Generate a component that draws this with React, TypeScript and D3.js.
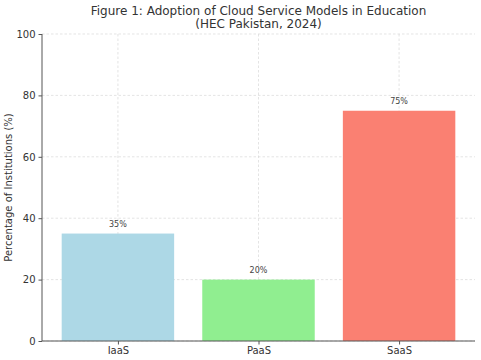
import React, { useEffect, useRef } from "react";
import * as d3 from "d3";

const categories = ["IaaS", "PaaS", "SaaS"];
const values = [35, 20, 75];
const barColors = ["#add8e6", "#90ee90", "#fa8072"];
const yTicks = [0, 20, 40, 60, 80, 100];

const W = 481;
const H = 360;

export default function App() {
  const ref = useRef<SVGSVGElement>(null);

  useEffect(() => {
    const svg = d3.select(ref.current);
    svg.selectAll("*").remove();

    const left = 42;
    const right = 475;
    const top = 34;
    const bottom = 341;

    const x = d3.scaleLinear().domain([-0.54, categories.length - 1 + 0.54]).range([left, right]);
    const y = d3.scaleLinear().domain([0, 100]).range([bottom, top]);
    const font = "DejaVu Sans, sans-serif";

    // grid
    svg
      .append("g")
      .selectAll("line")
      .data(yTicks)
      .enter()
      .append("line")
      .attr("x1", left)
      .attr("x2", right)
      .attr("y1", d => y(d))
      .attr("y2", d => y(d))
      .attr("stroke", "#d9d9d9")
      .attr("stroke-width", 0.7)
      .attr("stroke-dasharray", "2.5,2");
    svg
      .append("g")
      .selectAll("line")
      .data(categories)
      .enter()
      .append("line")
      .attr("x1", (d, i) => x(i))
      .attr("x2", (d, i) => x(i))
      .attr("y1", top)
      .attr("y2", bottom)
      .attr("stroke", "#d9d9d9")
      .attr("stroke-width", 0.7)
      .attr("stroke-dasharray", "2.5,2");

    // bars
    svg
      .append("g")
      .selectAll("rect")
      .data(values)
      .enter()
      .append("rect")
      .attr("x", (d, i) => x(i - 0.4))
      .attr("width", x(0.4) - x(-0.4))
      .attr("y", d => y(d))
      .attr("height", d => bottom - y(d))
      .attr("fill", (d, i) => barColors[i]);

    // bar labels
    svg
      .append("g")
      .selectAll("text")
      .data(values)
      .enter()
      .append("text")
      .attr("x", (d, i) => x(i))
      .attr("y", d => y(d) - 7)
      .attr("text-anchor", "middle")
      .attr("font-family", font)
      .attr("font-size", 8)
      .attr("fill", "#444")
      .text(d => `${d}%`);

    // axes
    const yAxis = svg
      .append("g")
      .attr("transform", `translate(${left},0)`)
      .call(d3.axisLeft(y).tickValues(yTicks).tickSize(3.5).tickPadding(3));
    const xAxis = svg
      .append("g")
      .attr("transform", `translate(0,${bottom})`)
      .call(
        d3
          .axisBottom(x)
          .tickValues(categories.map((d, i) => i))
          .tickFormat((d: any) => categories[d])
          .tickSize(3.5)
          .tickPadding(2)
      );
    [yAxis, xAxis].forEach(a => {
      a.select(".domain").attr("stroke", "#555").attr("stroke-width", 1);
      a.selectAll(".tick line").attr("stroke", "#555");
      a.selectAll("text").attr("font-family", font).attr("font-size", 10).attr("fill", "#333");
    });
    yAxis.select(".domain").attr("d", `M0,${bottom}V${top}`);
    xAxis.select(".domain").attr("d", `M${left},0H${right}`);

    svg
      .append("text")
      .attr("transform", `translate(12,${(top + bottom) / 2}) rotate(-90)`)
      .attr("text-anchor", "middle")
      .attr("font-family", font)
      .attr("font-size", 10)
      .attr("fill", "#333")
      .text("Percentage of Institutions (%)");

    const title = svg
      .append("text")
      .attr("text-anchor", "middle")
      .attr("font-family", font)
      .attr("font-size", 12)
      .attr("fill", "#333");
    title.append("tspan").attr("x", (left + right) / 2).attr("y", 15).text("Figure 1: Adoption of Cloud Service Models in Education");
    title.append("tspan").attr("x", (left + right) / 2).attr("y", 28).text("(HEC Pakistan, 2024)");
  }, []);

  return (
    <svg
      ref={ref}
      width={W}
      height={H}
      style={{ position: "absolute", left: 0, top: 0, background: "#fff" }}
    />
  );
}
